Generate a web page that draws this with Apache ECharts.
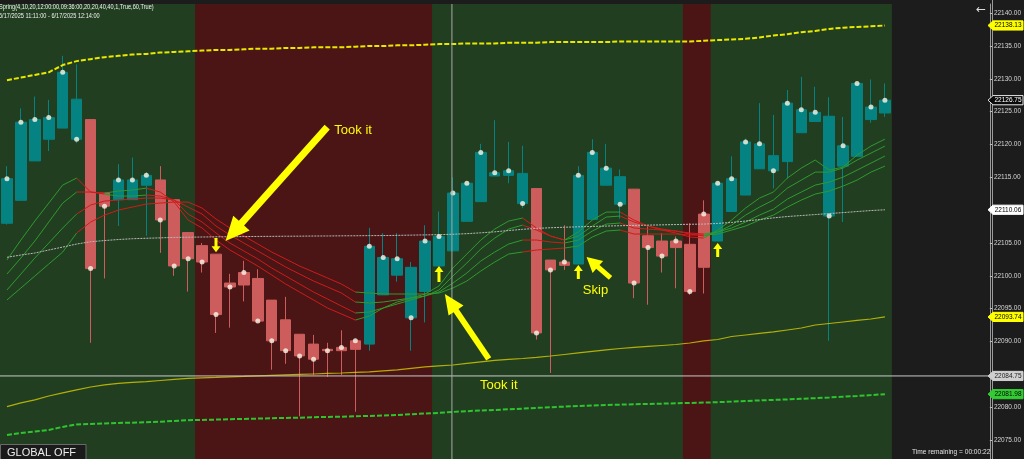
<!DOCTYPE html>
<html><head><meta charset="utf-8">
<script src="https://cdn.jsdelivr.net/npm/echarts@6/dist/echarts.min.js"></script>
<style>html,body{margin:0;padding:0;background:#1c1c1c;overflow:hidden}#c{width:1024px;height:459px}</style>
</head><body><div id="c"></div>
<script>
// ---------------- DATA ----------------
const categories = ['11:11','11:12','11:13','11:14','11:15','11:16','11:17','11:18','11:19','11:20','11:21','11:22','11:23','11:24','11:25','11:26','11:27','11:28','11:29','11:30','11:31','11:32','11:33','11:34','11:35','11:36','11:37','11:38','11:39','11:40','11:41','11:42','11:43','11:44','11:45','11:46','11:47','11:48','11:49','11:50','11:51','11:52','11:53','11:54','11:55','11:56','11:57','11:58','11:59','12:00','12:01','12:02','12:03','12:04','12:05','12:06','12:07','12:08','12:09','12:10','12:11','12:12','12:13','12:14'];
const opens  = [22108.0,22111.5,22117.5,22120.8,22122.5,22126.9,22123.8,22112.6,22111.6,22111.6,22113.8,22114.6,22111.6,22106.6,22104.6,22103.3,22098.9,22098.6,22099.6,22096.3,22093.3,22091.1,22089.6,22088.8,22088.6,22088.8,22089.6,22097.1,22100.1,22101.3,22097.6,22101.5,22103.8,22108.3,22111.3,22115.2,22115.3,22115.6,22113.3,22102.4,22101.6,22101.8,22108.6,22113.8,22115.1,22113.2,22106.1,22105.3,22104.3,22104.8,22101.3,22105.3,22109.8,22112.3,22116.3,22118.3,22117.4,22121.8,22123.5,22124.3,22116.7,22118.2,22123.8,22124.8];
const closes = [22114.8,22123.4,22123.8,22124.1,22131.0,22120.8,22101.1,22110.6,22114.6,22114.6,22115.3,22108.5,22101.5,22102.6,22102.1,22094.1,22098.3,22100.5,22093.1,22090.1,22088.6,22087.8,22087.3,22088.6,22089.1,22090.1,22104.5,22102.8,22102.6,22093.6,22105.3,22106.0,22112.6,22114.1,22118.8,22115.7,22116.0,22111.0,22091.3,22100.9,22102.1,22115.3,22118.8,22116.4,22110.9,22098.9,22104.3,22103.0,22105.3,22097.6,22109.4,22114.1,22114.8,22120.4,22120.1,22116.0,22126.3,22125.3,22124.9,22109.1,22119.8,22129.3,22125.7,22126.75];
const lows   = [22107.8,22111.5,22117.5,22119.0,22122.5,22120.2,22089.8,22099.6,22107.6,22111.6,22106.1,22103.5,22100.0,22097.6,22100.5,22091.3,22092.1,22096.1,22093.1,22085.7,22086.6,22078.6,22084.9,22084.6,22084.9,22079.3,22088.6,22097.1,22099.1,22088.6,22092.9,22101.5,22103.8,22108.3,22111.3,22115.2,22114.1,22110.3,22090.3,22085.2,22100.9,22101.8,22108.6,22113.8,22108.7,22096.6,22095.6,22100.5,22098.1,22097.1,22097.3,22105.3,22109.8,22112.3,22116.3,22113.3,22114.8,22121.8,22123.5,22090.1,22108.2,22118.2,22123.3,22124.2];
const highs  = [22116.7,22125.5,22127.3,22126.8,22133.5,22132.2,22123.8,22112.6,22117.0,22118.0,22115.8,22116.7,22111.6,22106.6,22105.0,22103.3,22100.3,22102.3,22101.0,22096.3,22096.8,22091.1,22091.0,22089.8,22091.7,22090.1,22107.3,22106.5,22106.5,22102.1,22107.7,22109.8,22115.0,22114.1,22120.1,22123.7,22120.4,22119.8,22113.3,22102.4,22107.7,22116.7,22120.8,22120.1,22116.2,22113.2,22107.6,22106.5,22106.0,22108.0,22111.5,22114.1,22118.2,22120.9,22126.3,22124.5,22128.3,22130.3,22128.8,22127.2,22124.2,22129.3,22129.9,22129.3];
const candleKind = 'TTTTTTRRTTTRRRRRRRRRRRRRRRTTTTTTTTTTTTRRRTTTTRRRRRRTTTTTTTTTTTTT';

const upperBand = [22129.8,22130.2,22130.6,22131.0,22132.1,22132.7,22133.0,22133.3,22133.5,22133.7,22133.8,22134.0,22134.1,22134.2,22134.3,22134.4,22134.4,22134.5,22134.6,22134.6,22134.7,22134.7,22134.8,22134.8,22134.8,22134.9,22135.0,22135.0,22135.1,22135.1,22135.2,22135.3,22135.3,22135.4,22135.4,22135.4,22135.5,22135.5,22135.5,22135.6,22135.6,22135.6,22135.6,22135.6,22135.7,22135.7,22135.7,22135.7,22135.7,22135.7,22135.8,22135.9,22136.0,22136.1,22136.3,22136.6,22136.8,22137.1,22137.3,22137.6,22137.8,22137.9,22138.0,22138.13];
const lowerBand = [22080.08,22080.64,22081.10,22081.70,22082.16,22082.62,22083.07,22083.38,22083.61,22083.76,22083.88,22084.06,22084.22,22084.37,22084.45,22084.52,22084.60,22084.67,22084.75,22084.83,22084.90,22084.98,22085.05,22085.13,22085.20,22085.28,22085.36,22085.51,22085.66,22085.89,22086.12,22086.27,22086.42,22086.65,22086.88,22087.11,22087.26,22087.41,22087.57,22087.79,22088.02,22088.25,22088.48,22088.71,22088.93,22089.09,22089.24,22089.39,22089.54,22089.77,22090.08,22090.30,22090.76,22090.99,22091.22,22091.45,22091.75,22092.05,22092.51,22092.74,22092.97,22093.20,22093.42,22093.74];
const greenBand = [22075.77,22076.07,22076.30,22076.53,22076.99,22077.37,22077.44,22077.52,22077.60,22077.64,22077.70,22077.79,22077.90,22078.01,22078.05,22078.10,22078.16,22078.20,22078.25,22078.31,22078.36,22078.40,22078.46,22078.51,22078.55,22078.61,22078.66,22078.74,22078.81,22078.92,22079.04,22079.12,22079.27,22079.38,22079.50,22079.57,22079.68,22079.77,22079.88,22079.98,22080.08,22080.18,22080.26,22080.33,22080.38,22080.44,22080.49,22080.53,22080.59,22080.64,22080.69,22080.75,22080.84,22080.94,22081.02,22081.10,22081.17,22081.28,22081.37,22081.48,22081.60,22081.70,22081.83,22081.98];
const midLine = [22102.82,22103.17,22103.47,22103.93,22104.38,22104.84,22105.19,22105.37,22105.53,22105.65,22105.72,22105.78,22105.85,22105.88,22105.91,22105.94,22105.95,22105.98,22106.00,22106.01,22106.03,22106.04,22106.06,22106.07,22106.09,22106.10,22106.12,22106.13,22106.16,22106.20,22106.23,22106.27,22106.33,22106.42,22106.55,22106.70,22106.90,22107.08,22107.23,22107.32,22107.40,22107.46,22107.52,22107.58,22107.63,22107.67,22107.72,22107.76,22107.81,22107.85,22107.88,22107.98,22108.13,22108.34,22108.57,22108.83,22109.03,22109.18,22109.33,22109.48,22109.63,22109.79,22109.94,22110.06];

const ribbon1 = [22102.41,22105.45,22108.34,22111.08,22113.82,22114.89,22112.76,22112.60,22112.91,22113.06,22113.36,22112.76,22111.23,22108.49,22107.28,22105.45,22103.93,22102.71,22101.49,22100.12,22098.75,22097.53,22096.32,22095.10,22094.19,22093.27,22093.88,22095.10,22096.01,22096.62,22097.23,22098.45,22101.19,22103.32,22105.45,22107.12,22108.34,22108.80,22107.28,22106.06,22105.45,22106.67,22108.49,22109.71,22109.71,22108.49,22107.58,22106.97,22106.52,22105.91,22105.75,22106.97,22108.49,22110.32,22111.84,22112.76,22114.89,22116.41,22117.63,22116.10,22116.56,22118.39,22119.76,22120.82];
const ribbon2 = [22100.27,22102.71,22105.30,22108.19,22111.08,22112.76,22112.76,22112.45,22112.15,22112.15,22112.30,22112.15,22111.54,22109.41,22108.19,22106.52,22104.99,22103.78,22102.56,22101.19,22099.97,22098.75,22097.53,22096.47,22095.40,22094.34,22094.49,22095.10,22095.71,22096.32,22096.93,22097.84,22099.97,22101.95,22104.08,22105.75,22107.12,22107.73,22106.97,22106.06,22105.45,22106.06,22107.58,22108.95,22109.10,22108.19,22107.58,22107.12,22106.82,22106.36,22106.06,22106.67,22107.73,22109.25,22110.47,22111.54,22113.36,22114.58,22115.80,22115.80,22116.41,22117.63,22118.69,22119.76];
const ribbon3 = [22097.84,22100.27,22102.71,22104.99,22107.28,22109.41,22110.78,22111.39,22111.54,22111.69,22111.84,22111.84,22111.54,22110.47,22109.41,22107.58,22106.21,22104.99,22103.78,22102.56,22101.34,22100.27,22099.21,22098.30,22097.38,22096.01,22095.86,22096.01,22096.32,22096.62,22096.93,22097.53,22098.90,22100.43,22102.25,22103.62,22104.84,22105.45,22105.45,22105.15,22104.99,22105.45,22106.82,22107.88,22108.04,22107.28,22107.12,22106.97,22106.82,22106.52,22106.36,22106.67,22107.28,22108.19,22109.25,22110.17,22111.69,22112.76,22113.82,22114.28,22115.04,22116.10,22117.17,22118.24];
const ribbon4 = [22096.32,22098.14,22099.97,22101.80,22103.62,22106.52,22108.19,22109.25,22110.02,22110.47,22110.93,22111.08,22111.23,22111.23,22110.32,22108.65,22107.28,22106.06,22104.84,22103.62,22102.56,22101.49,22100.58,22099.67,22098.75,22097.53,22097.38,22097.23,22097.23,22097.23,22097.23,22097.38,22098.14,22099.21,22100.73,22102.10,22103.32,22103.62,22103.93,22104.08,22104.23,22104.54,22105.91,22106.82,22106.97,22106.36,22106.36,22106.36,22106.36,22106.21,22106.21,22106.36,22106.97,22107.58,22108.49,22109.25,22110.47,22111.54,22112.45,22112.91,22113.67,22114.58,22115.80,22116.71];
// ribbon state per segment (g = green, r = red)
const ribbonStateFast = 'gggggrrgggrrrrrrrrrrrrrrrggggggggggggrrrggggrrrrrrggggggggggggg';
const ribbonStateSlow = 'gggggrrrrrrrrrrrrrrrrrrrrggggggggggggrrrggggrrrrrrggggggggggggg';

const redZones = [[14, 30], [49, 50]];         // candle index ranges with red session background
const yTickValues = [22075,22080,22085,22090,22095,22100,22105,22110,22115,22120,22125,22130,22135,22140];
const crossPrice = 22084.75;
const crossIndex = 31.93;

// annotations in data space [candle index, price]
const bigArrowTails = [[22.98, 22122.65], [34.57, 22087.34], [43.31, 22099.67]];
const bigArrowTips  = [[15.68, 22105.30], [31.42, 22097.23], [41.59, 22102.86]];
const noteTexts  = ['Took it', 'Took it', 'Skip'];
const notePoints = [[24.84, 22122.19], [35.29, 22083.38], [42.23, 22097.84]];
const smallArrowIdx  = [15, 31, 41, 51];
const smallArrowFrom = [22105.76, 22099.06, 22099.51, 22102.86];
const smallArrowTo   = [22103.60, 22101.50, 22101.65, 22104.99];

// ---------------- CHART ----------------
const TEAL = '#058383', RED = '#cd5c5c';
const RG = '#2f9a2f', RR = '#d11a1a';
const chart = echarts.init(document.getElementById('c'), null, {renderer: 'canvas'});

const candleData = opens.map((o, i) => {
  const c = candleKind[i] === 'T' ? TEAL : RED;
  return {value: [o, closes[i], lows[i], highs[i]], itemStyle: {color: c, color0: c, borderColor: c, borderColor0: c}};
});

function ribbonSeries(values, state) {
  const out = [];
  let k = 0;
  while (k < state.length) {
    const c = state[k], s = k;
    while (k < state.length && state[k] === c) k++;
    out.push({
      type: 'line', xAxisIndex: 0, yAxisIndex: 0, silent: true, z: 3,
      symbol: 'none', connectNulls: false, animation: false,
      lineStyle: {color: c === 'g' ? RG : RR, width: 1},
      data: values.map((v, i) => (i >= s && i <= k) ? v : null)
    });
  }
  return out;
}

const series = [
  {
    type: 'custom', xAxisIndex: 1, yAxisIndex: 0, z: 0, silent: true,
    data: redZones.map(z => [z[0] - 0.5, z[1] + 0.5]),
    encode: {x: [0, 1]},
    renderItem: function (params, api) {
      const a = api.coord([api.value(0), 0]);
      const b = api.coord([api.value(1), 0]);
      const cs = params.coordSys;
      return {type: 'rect', shape: {x: a[0], y: cs.y, width: b[0] - a[0], height: cs.height}, style: {fill: '#4b1515'}};
    }
  },
  {
    type: 'candlestick', xAxisIndex: 0, yAxisIndex: 0, z: 2, barWidth: 11,
    itemStyle: {borderWidth: 1}, data: candleData
  },
  ...ribbonSeries(ribbon1, ribbonStateFast),
  ...ribbonSeries(ribbon2, ribbonStateFast),
  ...ribbonSeries(ribbon3, ribbonStateSlow),
  ...ribbonSeries(ribbon4, ribbonStateSlow),
  {type: 'line', data: midLine, symbol: 'none', z: 4, lineStyle: {color: '#b8b8b8', width: 1, type: [2, 1]}},
  {type: 'line', data: upperBand, symbol: 'none', z: 4, lineStyle: {color: '#e8e800', width: 2, type: [5, 2]}},
  {type: 'line', data: lowerBand, symbol: 'none', z: 4, lineStyle: {color: 'rgba(215,205,0,0.8)', width: 1.2}},
  {type: 'line', data: greenBand, symbol: 'none', z: 4, lineStyle: {color: '#2fc42f', width: 2, type: [5, 2]}},
  {type: 'scatter', data: closes, symbol: 'circle', symbolSize: 5, z: 6, itemStyle: {color: '#fbf8e8'}}
];

chart.setOption({
  animation: false,
  backgroundColor: '#1c1c1c',
  grid: {left: 0, top: 4, width: 894, height: 455, show: true, backgroundColor: '#213f20', borderWidth: 0},
  xAxis: [
    {type: 'category', data: categories, boundaryGap: true, show: false},
    {type: 'value', min: -0.5, max: 63.5, show: false}
  ],
  yAxis: {
    type: 'value', position: 'right', offset: 98, min: 22072.1, max: 22141.4, scale: true,
    splitLine: {show: false},
    axisLine: {show: true, onZero: false, lineStyle: {color: '#9a9a9a', width: 1}},
    axisTick: {show: true, length: 3, lineStyle: {color: '#bdbdbd'}, customValues: yTickValues},
    axisLabel: {show: true, margin: 4, fontSize: 6.5, color: '#d6d6d6', fontFamily: 'Liberation Sans',
      customValues: yTickValues, formatter: v => Number(v).toFixed(2)}
  },
  series: series
});

// ---------------- OVERLAYS ----------------
const px = i => chart.convertToPixel({xAxisIndex: 1}, i);
const py = v => chart.convertToPixel({yAxisIndex: 0}, v);

function arrowPoly(p1, p2, shaftW, headL, headW) {
  const dx = p2[0] - p1[0], dy = p2[1] - p1[1];
  const L = Math.hypot(dx, dy), ux = dx / L, uy = dy / L, nx = -uy, ny = ux;
  const bx = p2[0] - ux * headL, by = p2[1] - uy * headL;
  return [
    [p1[0] + nx * shaftW / 2, p1[1] + ny * shaftW / 2],
    [bx + nx * shaftW / 2, by + ny * shaftW / 2],
    [bx + nx * headW / 2, by + ny * headW / 2],
    [p2[0], p2[1]],
    [bx - nx * headW / 2, by - ny * headW / 2],
    [bx - nx * shaftW / 2, by - ny * shaftW / 2],
    [p1[0] - nx * shaftW / 2, p1[1] - ny * shaftW / 2]
  ];
}

const g = [];
const FONT = 'Liberation Sans';
// axis line full height
g.push({type: 'line', z: 40, shape: {x1: 992.5, y1: 0, x2: 992.5, y2: 459}, style: {stroke: '#9a9a9a', lineWidth: 1}});
// crosshair
const hy = py(crossPrice), vx = px(crossIndex);
g.push({type: 'line', z: 50, shape: {x1: 0, y1: hy, x2: 990, y2: hy}, style: {stroke: '#c9c9c9', lineWidth: 1}});
g.push({type: 'line', z: 50, shape: {x1: vx, y1: 4, x2: vx, y2: 459}, style: {stroke: '#a8a8a8', lineWidth: 1}});

// big arrows
const bigStyle = [[7, 24, 22], [6, 20, 18], [5, 15, 16]];
bigArrowTails.forEach((t, k) => {
  const p1 = [px(t[0]), py(t[1])], p2 = [px(bigArrowTips[k][0]), py(bigArrowTips[k][1])];
  g.push({type: 'polygon', z: 60, shape: {points: arrowPoly(p1, p2, bigStyle[k][0], bigStyle[k][1], bigStyle[k][2])}, style: {fill: '#ffff00'}});
});
// small arrows
smallArrowIdx.forEach((idx, k) => {
  const p1 = [px(idx), py(smallArrowFrom[k])], p2 = [px(idx), py(smallArrowTo[k])];
  g.push({type: 'polygon', z: 60, shape: {points: arrowPoly(p1, p2, 3, 6, 9)}, style: {fill: '#ffff00'}});
});
// notes
noteTexts.forEach((t, k) => {
  g.push({type: 'text', z: 60, x: px(notePoints[k][0]), y: py(notePoints[k][1]),
    style: {text: t, fontSize: 13, fontFamily: FONT, fill: '#ffff00', align: 'center', verticalAlign: 'middle'}});
});

// price badges on the axis
const badges = [
  [upperBand[63], '#ffff00', '#000', null],
  [closes[63], '#0a0a0a', '#fff', '#e8e8e8'],
  [midLine[63], '#ffffff', '#000', null],
  [lowerBand[63], '#ffff00', '#000', null],
  [crossPrice, '#cfcfcf', '#222', null],
  [greenBand[63], '#33cc33', '#000', null]
];
badges.forEach(b => {
  const y = py(b[0]);
  g.push({type: 'polygon', z: 70, shape: {points: [[988, y], [993, y - 4.6], [1023, y - 4.6], [1023, y + 4.6], [993, y + 4.6]]},
    style: {fill: b[1], stroke: b[3] || b[1], lineWidth: 1}});
  g.push({type: 'text', z: 71, x: 1008, y: y, style: {text: b[0].toFixed(2), fontSize: 6.5, fontFamily: FONT, fill: b[2], align: 'center', verticalAlign: 'middle'}});
});

// header text
g.push({type: 'text', z: 80, x: -1, y: 4, scaleX: 0.8, style: {text: 'Spring(4,10,20,12:00:00,09:36:00,20,20,40,40,1,True,60,True)', fontSize: 7, fontFamily: FONT, fill: '#f0f0f0', align: 'left', verticalAlign: 'top'}});
g.push({type: 'text', z: 80, x: -1, y: 13, scaleX: 0.8, style: {text: '6/17/2025 11:11:00 - 6/17/2025 12:14:00', fontSize: 7, fontFamily: FONT, fill: '#f0f0f0', align: 'left', verticalAlign: 'top'}});
g.push({type: 'text', z: 80, x: 981, y: 10, style: {text: '\u2190', fontSize: 12, fontFamily: 'DejaVu Sans', fill: '#dddddd', align: 'center', verticalAlign: 'middle'}});
// GLOBAL OFF
g.push({type: 'rect', z: 80, shape: {x: 0.5, y: 444.5, width: 85.5, height: 20}, style: {fill: '#1b1b1b', stroke: '#6a6a6a', lineWidth: 1}});
g.push({type: 'text', z: 81, x: 7, y: 452.5, style: {text: 'GLOBAL OFF', fontSize: 11, fontFamily: FONT, fill: '#ececec', align: 'left', verticalAlign: 'middle'}});
// time remaining
g.push({type: 'text', z: 80, x: 912, y: 452, style: {text: 'Time remaining = 00:00:22', fontSize: 6.6, fontFamily: FONT, fill: '#e0e0e0', align: 'left', verticalAlign: 'middle'}});

chart.setOption({graphic: g});
</script>
</body></html>
